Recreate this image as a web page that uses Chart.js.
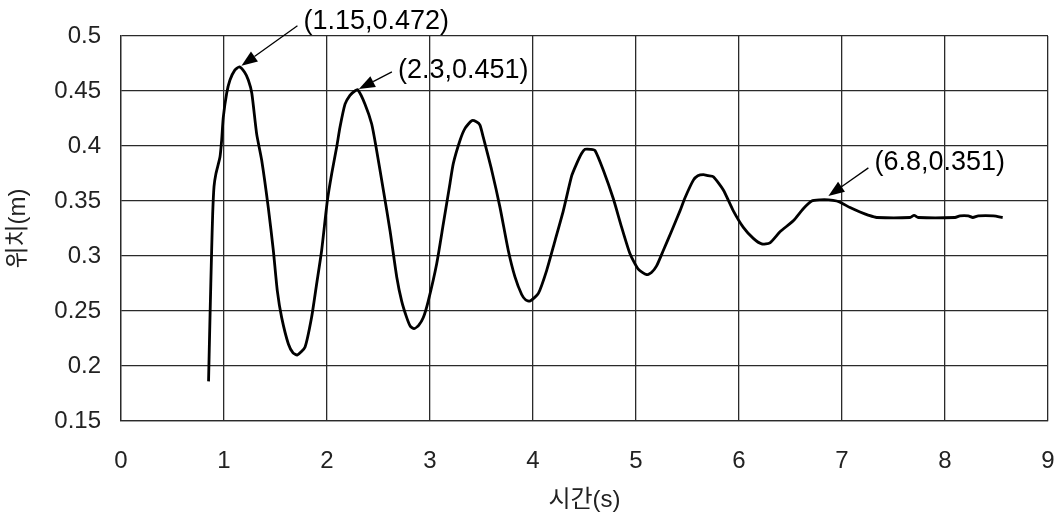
<!DOCTYPE html>
<html>
<head>
<meta charset="utf-8">
<script src="https://cdn.jsdelivr.net/npm/chart.js@4"></script>
<style>
  html, body { margin: 0; padding: 0; background: #fff; }
  #wrap { width: 1062px; height: 522px; }
</style>
</head>
<body>
<div id="wrap"><canvas id="posChart" width="1062" height="522"></canvas></div>
<script>
// 시간 (s)
const timeS = [
  0.850, 0.864, 0.880, 0.890, 0.903, 0.922, 0.961, 0.977, 0.993, 1.026,
  1.058, 1.105, 1.150, 1.200, 1.236, 1.270, 1.317, 1.366, 1.430, 1.479,
  1.518, 1.560, 1.625, 1.670, 1.712, 1.786, 1.850, 1.900, 1.948, 2.003,
  2.046, 2.094, 2.126, 2.175, 2.223, 2.270, 2.300, 2.369, 2.434, 2.482,
  2.547, 2.612, 2.677, 2.725, 2.774, 2.810, 2.845, 2.890, 2.935, 2.983,
  3.065, 3.129, 3.194, 3.226, 3.291, 3.340, 3.405, 3.450, 3.485, 3.517,
  3.599, 3.680, 3.760, 3.825, 3.890, 3.930, 3.971, 4.052, 4.133, 4.214,
  4.294, 4.376, 4.424, 4.470, 4.505, 4.560, 4.602, 4.683, 4.780, 4.861,
  4.942, 5.022, 5.104, 5.150, 5.200, 5.265, 5.347, 5.427, 5.476, 5.557,
  5.600, 5.654, 5.700, 5.751, 5.848, 5.945, 6.042, 6.139, 6.220, 6.300,
  6.398, 6.527, 6.624, 6.706, 6.786, 6.870, 6.948, 7.000, 7.078, 7.175,
  7.260, 7.337, 7.660, 7.700, 7.740, 8.097, 8.145, 8.226, 8.270, 8.323,
  8.470, 8.560
];
// 위치 (m)
const positionM = [
  0.186, 0.244, 0.305, 0.338, 0.363, 0.375, 0.390, 0.405, 0.426, 0.448,
  0.460, 0.469, 0.472, 0.467, 0.460, 0.448, 0.411, 0.387, 0.344, 0.305,
  0.268, 0.244, 0.220, 0.212, 0.210, 0.217, 0.244, 0.275, 0.305, 0.350,
  0.375, 0.399, 0.417, 0.438, 0.446, 0.450, 0.451, 0.438, 0.420, 0.396,
  0.360, 0.323, 0.281, 0.259, 0.244, 0.236, 0.234, 0.237, 0.244, 0.259,
  0.293, 0.329, 0.366, 0.384, 0.405, 0.416, 0.423, 0.422, 0.419, 0.408,
  0.378, 0.344, 0.305, 0.281, 0.265, 0.260, 0.259, 0.266, 0.287, 0.314,
  0.341, 0.373, 0.384, 0.393, 0.397, 0.397, 0.396, 0.378, 0.352, 0.326,
  0.302, 0.288, 0.283, 0.285, 0.291, 0.305, 0.323, 0.341, 0.353, 0.369,
  0.373, 0.374, 0.373, 0.372, 0.360, 0.341, 0.326, 0.316, 0.311, 0.312,
  0.322, 0.332, 0.343, 0.350, 0.351, 0.351, 0.350, 0.348, 0.344, 0.340,
  0.337, 0.335, 0.335, 0.337, 0.335, 0.335, 0.3365, 0.3365, 0.335, 0.3365,
  0.3365, 0.335
];

const xTickValues = [0, 1, 2, 3, 4, 5, 6, 7, 8, 9];
const xTickLabels = ['0', '1', '2', '3', '4', '5', '6', '7', '8', '9'];
const yTickValues = [0.15, 0.2, 0.25, 0.3, 0.35, 0.4, 0.45, 0.5];
const yTickLabels = ['0.15', '0.2', '0.25', '0.3', '0.35', '0.4', '0.45', '0.5'];

// 표시할 꼭짓점
const noteX = [1.15, 2.3, 6.8];
const noteY = [0.472, 0.451, 0.351];
const noteLabels = ['(1.15,0.472)', '(2.3,0.451)', '(6.8,0.351)'];

const FONT = "'Liberation Sans', 'Noto Sans CJK KR', sans-serif";
const gridColor = '#2a2a2a';

// 화살표 + 좌표 글자 (텍스트/꼬리/머리 위치는 점 기준 픽셀 오프셋)
const noteLayout = [
  { text: [64, -45], tail: [58, -41], tip: [2, -1] },
  { text: [40, -19], tail: [34, -18], tip: [1, -1] },
  { text: [53, -37], tail: [47, -32], tip: [7, -4] }
];

const arrowNotes = {
  id: 'arrowNotes',
  afterDatasetsDraw(chart) {
    const { ctx, scales } = chart;
    ctx.save();
    ctx.fillStyle = '#000';
    ctx.strokeStyle = '#000';
    ctx.lineWidth = 1.3;
    ctx.font = '27px ' + FONT;
    ctx.textBaseline = 'middle';
    noteLabels.forEach((label, i) => {
      const px = scales.x.getPixelForValue(noteX[i]);
      const py = scales.y.getPixelForValue(noteY[i]);
      const L = noteLayout[i];
      const tx = px + L.tail[0], ty = py + L.tail[1];
      const hx = px + L.tip[0], hy = py + L.tip[1];
      const ang = Math.atan2(hy - ty, hx - tx);
      const headLen = 16, headW = 6;
      const bx = hx - headLen * Math.cos(ang), by = hy - headLen * Math.sin(ang);
      ctx.beginPath();
      ctx.moveTo(tx, ty);
      ctx.lineTo(bx, by);
      ctx.stroke();
      ctx.beginPath();
      ctx.moveTo(hx, hy);
      ctx.lineTo(bx + headW * Math.sin(ang), by - headW * Math.cos(ang));
      ctx.lineTo(bx - headW * Math.sin(ang), by + headW * Math.cos(ang));
      ctx.closePath();
      ctx.fill();
      ctx.fillText(label, px + L.text[0], py + L.text[1]);
    });
    ctx.restore();
  }
};

new Chart(document.getElementById('posChart'), {
  type: 'line',
  data: {
    datasets: [{
      data: timeS.map((t, i) => ({ x: t, y: positionM[i] })),
      borderColor: '#000',
      borderWidth: 2.8,
      pointRadius: 0,
      tension: 0.2,
      fill: false
    }]
  },
  options: {
    responsive: false,
    animation: false,
    devicePixelRatio: 1,
    layout: { padding: { left: 0, right: 14, top: 36, bottom: 0 } },
    plugins: {
      legend: { display: false },
      tooltip: { enabled: false }
    },
    scales: {
      x: {
        type: 'linear',
        min: 0,
        max: 9,
        afterBuildTicks: s => { s.ticks = xTickValues.map(v => ({ value: v })); },
        afterFit: s => { s.height = 101; s.paddingLeft = 0; s.paddingRight = 0; },
        grid: { color: gridColor, lineWidth: 1.3, drawTicks: false },
        border: { color: gridColor, width: 1.3 },
        ticks: {
          padding: 26,
          color: '#222',
          font: { family: FONT, size: 24 },
          maxRotation: 0,
          callback: (v, i) => xTickLabels[i]
        },
        title: {
          display: true,
          text: '시간(s)',
          color: '#222',
          font: { family: FONT, size: 24 },
          padding: { top: 0, bottom: 7 }
        }
      },
      y: {
        min: 0.15,
        max: 0.5,
        afterBuildTicks: s => { s.ticks = yTickValues.map(v => ({ value: v })); },
        afterFit: s => { s.width = 121; s.paddingTop = 0; s.paddingBottom = 0; },
        grid: { color: gridColor, lineWidth: 1.3, drawTicks: false },
        border: { color: gridColor, width: 1.3 },
        ticks: {
          padding: 20,
          color: '#222',
          font: { family: FONT, size: 24 },
          callback: (v, i) => yTickLabels[i]
        },
        title: {
          display: true,
          text: '위치(m)',
          color: '#222',
          font: { family: FONT, size: 24 },
          padding: { top: 4, bottom: 0 }
        }
      }
    }
  },
  plugins: [arrowNotes]
});
</script>
</body>
</html>
